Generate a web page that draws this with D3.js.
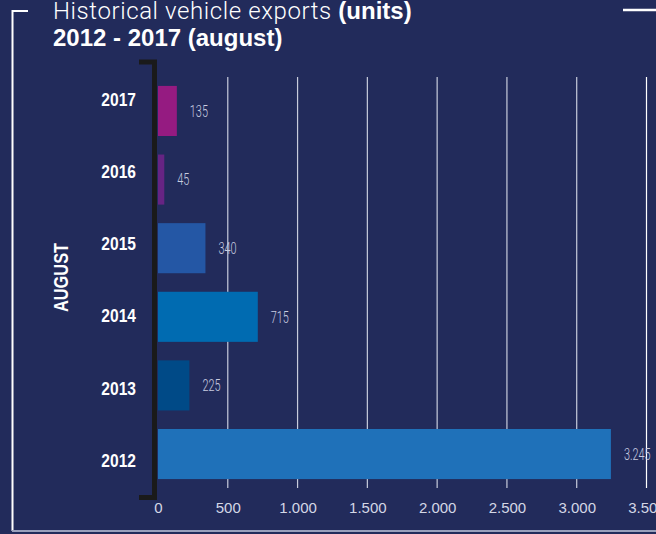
<!DOCTYPE html>
<html>
<head>
<meta charset="utf-8">
<script src="https://d3js.org/d3.v7.min.js"></script>
<style>
  body { margin: 0; background: #222b5b; }
  svg { display: block; }
</style>
</head>
<body>
<script>
// data
var years = ["2017", "2016", "2015", "2014", "2013", "2012"];
var exportsUnits = [135, 45, 340, 715, 225, 3245];
var barColors = ["#951b81", "#662483", "#2457a5", "#006bb1", "#004a87", "#1f71b9"];
var xTicks = [0, 500, 1000, 1500, 2000, 2500, 3000, 3500];

var w = 656, h = 534;
var svg = d3.select("body").append("svg")
  .attr("width", w)
  .attr("height", h);

svg.append("rect").attr("width", w).attr("height", h).attr("fill", "#222b5b");

// frame lines
svg.append("path")
  .attr("d", "M28,11H12.5V531")
  .attr("fill", "none").attr("stroke", "#fff").attr("stroke-width", 2);
svg.append("line")
  .attr("x1", 12).attr("x2", 656).attr("y1", 531).attr("y2", 531)
  .attr("stroke", "#9aa0bc").attr("stroke-width", 2);
svg.append("line")
  .attr("x1", 623).attr("x2", 656).attr("y1", 10).attr("y2", 10)
  .attr("stroke", "#fff").attr("stroke-width", 2.5);

// title
var t1 = svg.append("text").attr("x", 53).attr("y", 18.5)
  .attr("fill", "#fff").style("font-size", "24px");
t1.append("tspan").text("Historical vehicle exports ")
  .style("font-family", "Roboto, 'Open Sans', sans-serif").style("font-weight", 300)
  .style("letter-spacing", "0.6px");
t1.append("tspan").text("(units)")
  .style("font-family", "'Liberation Sans', Arial, sans-serif").style("font-weight", "bold");
svg.append("text").attr("x", 53).attr("y", 45.5)
  .attr("fill", "#fff")
  .style("font-family", "'Liberation Sans', Arial, sans-serif")
  .style("font-weight", "bold").style("font-size", "24px")
  .text("2012 - 2017 (august)");

var x = d3.scaleLinear().domain([0, 3500]).range([158, 646.5]);
var y = d3.scaleBand().domain(years).range([77, 488]).paddingInner(0.27).paddingOuter(0.13);
var yLab = d3.scalePoint().domain(years).range([99, 460]);

var loc = d3.formatLocale({decimal: ",", thousands: ".", grouping: [3], currency: ["", ""]});
var fmt = loc.format(",");

// gridlines
svg.append("g").selectAll("line")
  .data(xTicks.slice(1))
  .enter().append("line")
  .attr("x1", function(d){ return x(d); })
  .attr("x2", function(d){ return x(d); })
  .attr("y1", 77).attr("y2", 488)
  .attr("stroke", function(d){ return d === 3500 ? "#ffffff" : "#c8ccdc"; })
  .attr("stroke-width", 1.2);

// x axis
var xAxis = d3.axisBottom(x).tickValues(xTicks).tickSize(0).tickPadding(0).tickFormat(fmt);
var gX = svg.append("g").attr("transform", "translate(0,500)").call(xAxis);
gX.select(".domain").remove();
gX.selectAll("text")
  .attr("fill", "#d4d7e6")
  .attr("dy", "0.85em")
  .style("font-family", "'Liberation Sans', Arial, sans-serif")
  .style("font-size", "15px");

// bars
svg.append("g").selectAll("rect")
  .data(years)
  .enter().append("rect")
  .attr("x", x(0))
  .attr("y", function(d){ return y(d); })
  .attr("width", function(d, i){ return x(exportsUnits[i]) - x(0); })
  .attr("height", y.bandwidth())
  .attr("fill", function(d, i){ return barColors[i]; });

// value labels (condensed light look)
svg.append("g").selectAll("text")
  .data(years)
  .enter().append("text")
  .attr("transform", function(d, i){
    return "translate(" + (x(exportsUnits[i]) + 13) + "," + (y(d) + y.bandwidth() / 2) + ") scale(0.68,1)";
  })
  .attr("dy", "0.36em")
  .attr("fill", "#c9cde0")
  .style("font-family", "Roboto, 'Liberation Sans', sans-serif")
  .style("font-weight", 300)
  .style("font-size", "16px")
  .text(function(d, i){ return fmt(exportsUnits[i]); });

// year labels
svg.append("g").selectAll("text")
  .data(years)
  .enter().append("text")
  .attr("transform", function(d){ return "translate(136," + yLab(d) + ") scale(0.82,1)"; })
  .attr("dy", "0.36em")
  .attr("text-anchor", "end")
  .attr("fill", "#fff")
  .style("font-family", "'Liberation Sans', Arial, sans-serif")
  .style("font-weight", "bold")
  .style("font-size", "19px")
  .text(function(d){ return d; });

// black bracket
svg.append("path")
  .attr("d", "M139,62H154.5V497.5H139")
  .attr("fill", "none").attr("stroke", "#1a1a1a").attr("stroke-width", 5);

// AUGUST
svg.append("text")
  .attr("transform", "translate(60,277.5) rotate(-90) scale(0.78,1)")
  .attr("text-anchor", "middle")
  .attr("dy", "0.36em")
  .attr("fill", "#fff")
  .style("font-family", "'Liberation Sans', Arial, sans-serif")
  .style("font-weight", "bold")
  .style("font-size", "21px")
  .text("AUGUST");
</script>
</body>
</html>
